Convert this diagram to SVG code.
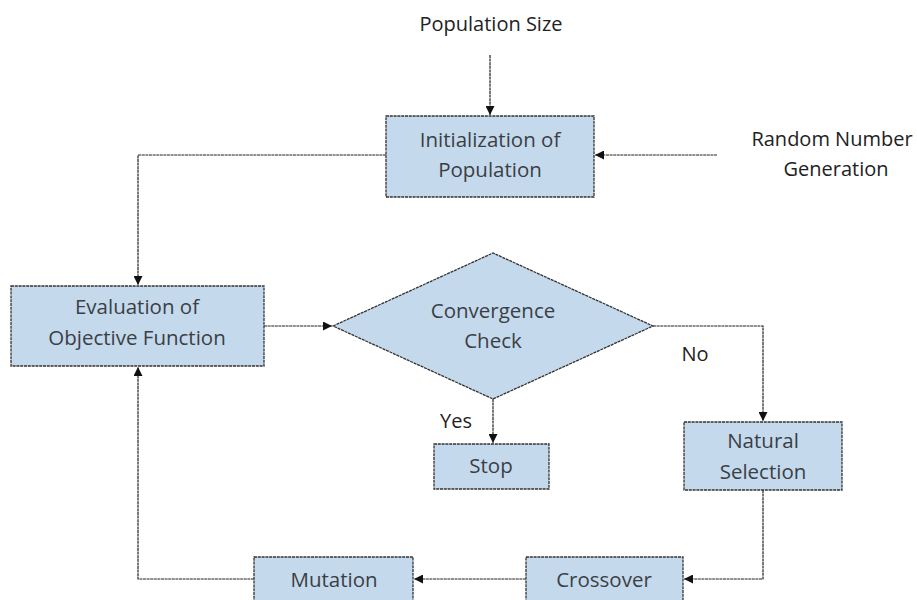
<svg xmlns="http://www.w3.org/2000/svg" width="917" height="600" viewBox="0 0 917 600">
<style>
.box{fill:#c5d9ec;stroke:#333;stroke-width:1.3;stroke-dasharray:3 0.8}
.t{font-family:"Open Sans","Liberation Sans",sans-serif;font-size:20.5px;fill:#3a3f45;text-anchor:middle}
.lbl{font-family:"Open Sans","Liberation Sans",sans-serif;font-size:20px;fill:#222;text-anchor:middle}
.c{fill:none;stroke:#222;stroke-width:1.2;stroke-dasharray:3 0.6}
</style>
<defs>
<marker id="ah" viewBox="0 0 10 10" refX="10" refY="5" markerWidth="9" markerHeight="9" markerUnits="userSpaceOnUse" orient="auto">
<path d="M0,0 L10,5 L0,10 z" fill="#111"/>
</marker>
</defs>
<rect width="917" height="600" fill="#fff"/>
<g id="connectors">
<path class="c" d="M490,55 V115" marker-end="url(#ah)"/>
<path class="c" d="M717,155 H595" marker-end="url(#ah)"/>
<path class="c" d="M386,155 H138 V285" marker-end="url(#ah)"/>
<path class="c" d="M264,326 H332" marker-end="url(#ah)"/>
<path class="c" d="M493,399 V443" marker-end="url(#ah)"/>
<path class="c" d="M653,326 H763 V421" marker-end="url(#ah)"/>
<path class="c" d="M763,490 V579 H684" marker-end="url(#ah)"/>
<path class="c" d="M526,579 H414" marker-end="url(#ah)"/>
<path class="c" d="M254,579 H138 V367" marker-end="url(#ah)"/>
</g>
<g id="label-popsize"><text class="lbl" x="491" y="31">Population Size</text></g>
<g id="label-random"><text class="lbl" x="832" y="146">Random Number</text><text class="lbl" x="836" y="176">Generation</text></g>
<g id="init"><rect class="box" x="386" y="116" width="208" height="81"/><text class="t" x="490" y="147">Initialization of</text><text class="t" x="490" y="177">Population</text></g>
<g id="eval"><rect class="box" x="11" y="286" width="253" height="80"/><text class="t" x="137" y="314">Evaluation of</text><text class="t" x="137" y="345">Objective Function</text></g>
<g id="conv"><polygon class="box" points="333,326 493,253 653,326 493,399"/><text class="t" x="493" y="318">Convergence</text><text class="t" x="493" y="348">Check</text></g>
<g id="label-yes"><text class="lbl" x="456" y="428">Yes</text></g>
<g id="label-no"><text class="lbl" x="695" y="361">No</text></g>
<g id="stop"><rect class="box" x="434" y="444" width="115" height="45"/><text class="t" x="491" y="473">Stop</text></g>
<g id="natsel"><rect class="box" x="684" y="422" width="158" height="68"/><text class="t" x="763" y="448">Natural</text><text class="t" x="763" y="479">Selection</text></g>
<g id="crossover"><rect class="box" x="526" y="557" width="157" height="50"/><text class="t" x="604" y="587">Crossover</text></g>
<g id="mutation"><rect class="box" x="254" y="557" width="159" height="50"/><text class="t" x="334" y="587">Mutation</text></g>
</svg>
